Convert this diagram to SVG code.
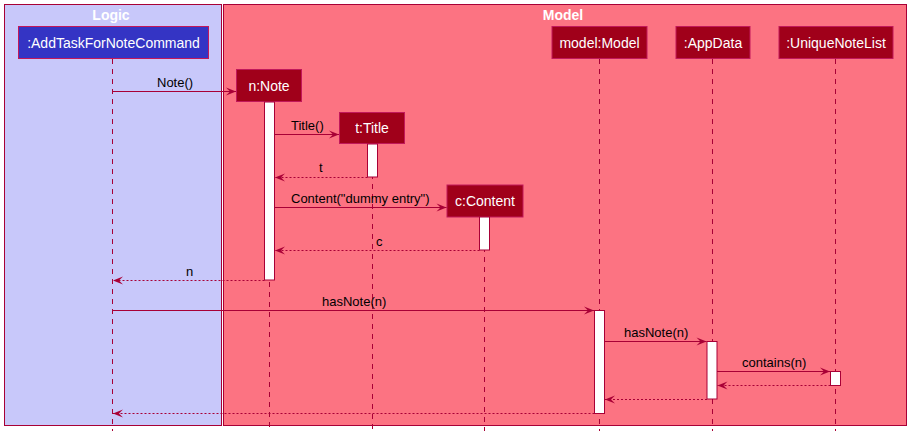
<svg xmlns="http://www.w3.org/2000/svg" width="916" height="442" viewBox="0 0 916 442">
<defs>
<style>
.box{stroke:#A80036;stroke-width:1}
.part{fill:#A0001A;stroke:#C2185B;stroke-width:1}
.ptxt{font-family:"Liberation Sans",Arial,sans-serif;font-size:14px;fill:#FFFFFF;text-anchor:middle}
.ttl{font-family:"Liberation Sans",Arial,sans-serif;font-size:14px;font-weight:bold;fill:#FFFFFF;text-anchor:middle}
.msg{font-family:"Liberation Sans",Arial,sans-serif;font-size:13px;fill:#000000}
.life{stroke:#A80036;stroke-width:1;stroke-dasharray:5,5;fill:none}
.act{fill:#FFFFFF;stroke:#A80036;stroke-width:1}
.call{stroke:#A80036;stroke-width:1;fill:none}
.ret{stroke:#A80036;stroke-width:1;stroke-dasharray:2,2;fill:none}
</style>
<marker id="ah" markerWidth="12" markerHeight="10" viewBox="0 0 12 10" refX="11" refY="5" orient="auto" markerUnits="userSpaceOnUse">
<polygon points="1,1 11,5 1,9 5,5" fill="#A80036"/>
</marker>
</defs>
<rect width="916" height="442" fill="#FFFFFF"/>
<g id="logic-box">
<rect class="box" x="4.5" y="4.5" width="217" height="421" fill="#C8C8FA"/>
<text class="ttl" x="111" y="20">Logic</text>
</g>
<g id="model-box">
<rect class="box" x="223.5" y="4.5" width="683" height="421" fill="#FC7382"/>
<text class="ttl" x="563" y="20">Model</text>
</g>
<g id="lifelines">
<line class="life" x1="112.5" y1="59" x2="112.5" y2="431"/>
<line class="life" x1="269.5" y1="102" x2="269.5" y2="431"/>
<line class="life" x1="372.5" y1="144" x2="372.5" y2="431"/>
<line class="life" x1="484.5" y1="217" x2="484.5" y2="431"/>
<line class="life" x1="599.5" y1="59" x2="599.5" y2="431"/>
<line class="life" x1="712.5" y1="59" x2="712.5" y2="431"/>
<line class="life" x1="835.5" y1="59" x2="835.5" y2="431"/>
</g>
<g id="p-command">
<rect x="18.5" y="26.5" width="190" height="32" fill="#3434C4" stroke="#C2185B"/>
<text class="ptxt" x="113.5" y="47.5">:AddTaskForNoteCommand</text>
</g>
<g id="p-note">
<rect class="part" x="236.5" y="69.5" width="65" height="32"/>
<text class="ptxt" x="269" y="90.5">n:Note</text>
<rect class="act" x="264.5" y="102" width="10" height="178"/>
</g>
<g id="p-title">
<rect class="part" x="339.5" y="112.5" width="65" height="31"/>
<text class="ptxt" x="372" y="133">t:Title</text>
<rect class="act" x="367.5" y="144" width="10" height="33"/>
</g>
<g id="p-content">
<rect class="part" x="447" y="185" width="76" height="32"/>
<text class="ptxt" x="485" y="206">c:Content</text>
<rect class="act" x="479.5" y="217" width="10" height="33"/>
</g>
<g id="p-model">
<rect class="part" x="552" y="26.5" width="95" height="32"/>
<text class="ptxt" x="599.5" y="47.5">model:Model</text>
<rect class="act" x="594.5" y="310.5" width="10" height="103"/>
</g>
<g id="p-appdata">
<rect class="part" x="676" y="26.5" width="74" height="32"/>
<text class="ptxt" x="713" y="47.5">:AppData</text>
<rect class="act" x="707" y="341.5" width="10" height="57.5"/>
</g>
<g id="p-uniquenotelist">
<rect class="part" x="779" y="26.5" width="114" height="32"/>
<text class="ptxt" x="836" y="47.5">:UniqueNoteList</text>
<rect class="act" x="830.5" y="371.5" width="10" height="14"/>
</g>
<g id="connectors">
<line class="call" x1="112.5" y1="91.5" x2="236" y2="91.5" marker-end="url(#ah)"/>
<text class="msg" x="157" y="87">Note()</text>
<line class="call" x1="274.5" y1="134.5" x2="339" y2="134.5" marker-end="url(#ah)"/>
<text class="msg" x="291" y="130">Title()</text>
<line class="ret" x1="367.5" y1="177.5" x2="275" y2="177.5" marker-end="url(#ah)"/>
<text class="msg" x="319" y="172">t</text>
<line class="call" x1="274.5" y1="207.5" x2="446.5" y2="207.5" marker-end="url(#ah)"/>
<text class="msg" x="291" y="203">Content("dummy entry")</text>
<line class="ret" x1="479.5" y1="250.5" x2="275" y2="250.5" marker-end="url(#ah)"/>
<text class="msg" x="376" y="246">c</text>
<line class="ret" x1="264.5" y1="280.5" x2="113" y2="280.5" marker-end="url(#ah)"/>
<text class="msg" x="186" y="276">n</text>
<line class="call" x1="112.5" y1="310.5" x2="594" y2="310.5" marker-end="url(#ah)"/>
<text class="msg" x="322" y="306">hasNote(n)</text>
<line class="call" x1="604.5" y1="341.5" x2="706.5" y2="341.5" marker-end="url(#ah)"/>
<text class="msg" x="624" y="337">hasNote(n)</text>
<line class="call" x1="717" y1="371.5" x2="830" y2="371.5" marker-end="url(#ah)"/>
<text class="msg" x="742" y="367">contains(n)</text>
<line class="ret" x1="830.5" y1="385.5" x2="717.5" y2="385.5" marker-end="url(#ah)"/>
<line class="ret" x1="707" y1="399.5" x2="605" y2="399.5" marker-end="url(#ah)"/>
<line class="ret" x1="594.5" y1="413.5" x2="113" y2="413.5" marker-end="url(#ah)"/>
</g>
</svg>
